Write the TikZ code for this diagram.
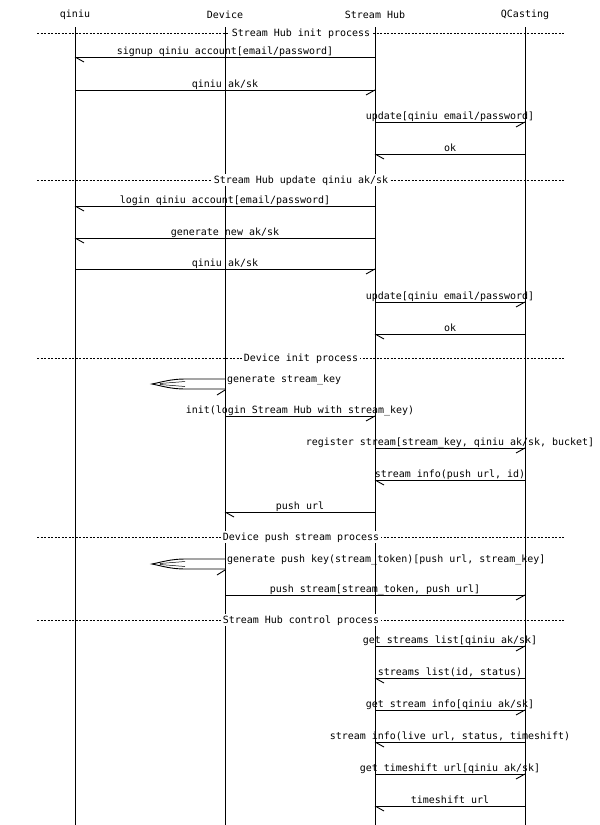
\documentclass[tikz,border=0pt]{standalone}
\usepackage{fontspec}
\setmonofont{DejaVu Sans Mono}
\usetikzlibrary{calc}
\tikzset{
  x=1pt, y=-1pt,
  txt/.style={font=\ttfamily\fontsize{9.97}{10}\selectfont, inner sep=0pt},
  lbl/.style={txt, anchor=base},
  head/.style={txt, anchor=center},
  life/.style={line width=0.9pt, black},
  msg/.style={line width=0.9pt, black},
  sepline/.style={line width=0.8pt, dash pattern=on 2pt off 1.5pt},
  seplbl/.style={txt, fill=white, inner xsep=1.5pt, inner ysep=1pt, anchor=base},
}
\newcommand\msgline[5]{%
  \coordinate (#1a) at (#2,#4);
  \coordinate (#1b) at (#3,#4);
  \draw[msg] (#1a) -- (#1b);
  \pgfmathsetmacro\hdx{(#3>#2) ? -9 : 9}%
  \draw[msg] (#1b) -- ++(\hdx,5);
  \node[lbl] (#1l) at ($(#1a)!0.5!(#1b)+(0,-3)$) {#5};
}
\newcommand\sepline[3]{%
  \coordinate (#1a) at (37,#2);
  \coordinate (#1b) at (565,#2);
  \draw[sepline] (#1a) -- (#1b);
  \node[seplbl] (#1l) at ($(#1a)!0.5!(#1b)+(0,3)$) {#3};
}
\newcommand\selfmsg[3]{%
  \coordinate (#1a) at (225,#2);
  \coordinate (#1b) at (225,#2+10);
  \draw[msg] (#1a) -- ++(-40,0) .. controls ++(-14,0) and ++(10,-2) .. ++(-33,5)
     .. controls ++(10,2) and ++(-14,0) .. ++(33,5) -- (#1b);
  \draw[line width=0.5pt] ($(#1a)+(-40,2.5)$) -- ++(-25,2) -- ++(0,1) -- ++(25,2);
  \draw[msg] ($(#1b)+(0,1)$) -- ++(-8,5);
  \node[txt, anchor=base west] (#1l) at ($(#1a)+(2,3)$) {#3};
}
\begin{document}
\begin{tikzpicture}
\useasboundingbox (0,0) rectangle (600,825);
\fill[white] (0,0) rectangle (600,825);
% heads
\node[head] (qiniu) at (75,15) {qiniu};
\node[head] (device) at (225,15) {Device};
\node[head] (hub) at (375,15) {Stream Hub};
\node[head] (qc) at (525,15) {QCasting};
\coordinate (qiniuE) at (75,825);
\coordinate (deviceE) at (225,825);
\coordinate (hubE) at (375,825);
\coordinate (qcE) at (525,825);
\draw[life] (75,27) -- (qiniuE);
\draw[life] (225,27) -- (deviceE);
\draw[life] (375,27) -- (hubE);
\draw[life] (525,27) -- (qcE);

\sepline{s1}{33}{Stream Hub init process}
\msgline{m1}{375}{75}{57}{signup qiniu account[email/password]}
\msgline{m2}{75}{375}{90}{qiniu ak/sk}
\msgline{m3}{375}{525}{122}{update[qiniu email/password]}
\msgline{m4}{525}{375}{154}{ok}

\sepline{s2}{180}{Stream Hub update qiniu ak/sk}
\msgline{m5}{375}{75}{206}{login qiniu account[email/password]}
\msgline{m6}{375}{75}{238}{generate new ak/sk}
\msgline{m7}{75}{375}{269}{qiniu ak/sk}
\msgline{m8}{375}{525}{302}{update[qiniu email/password]}
\msgline{m9}{525}{375}{334}{ok}

\sepline{s3}{358}{Device init process}
\selfmsg{a1}{379}{generate stream\_key}
\msgline{m10}{225}{375}{416}{init(login Stream Hub with stream\_key)}
\msgline{m11}{375}{525}{448}{register stream[stream\_key, qiniu ak/sk, bucket]}
\msgline{m12}{525}{375}{480}{stream info(push url, id)}
\msgline{m13}{375}{225}{512}{push url}

\sepline{s4}{537}{Device push stream process}
\selfmsg{a2}{559}{generate push key(stream\_token)[push url, stream\_key]}
\msgline{m14}{225}{525}{595}{push stream[stream\_token, push url]}

\sepline{s5}{620}{Stream Hub control process}
\msgline{m15}{375}{525}{646}{get streams list[qiniu ak/sk]}
\msgline{m16}{525}{375}{678}{streams list(id, status)}
\msgline{m17}{375}{525}{710}{get stream info[qiniu ak/sk]}
\msgline{m18}{525}{375}{742}{stream info(live url, status, timeshift)}
\msgline{m19}{375}{525}{774}{get timeshift url[qiniu ak/sk]}
\msgline{m20}{525}{375}{806}{timeshift url}
\end{tikzpicture}
\end{document}
